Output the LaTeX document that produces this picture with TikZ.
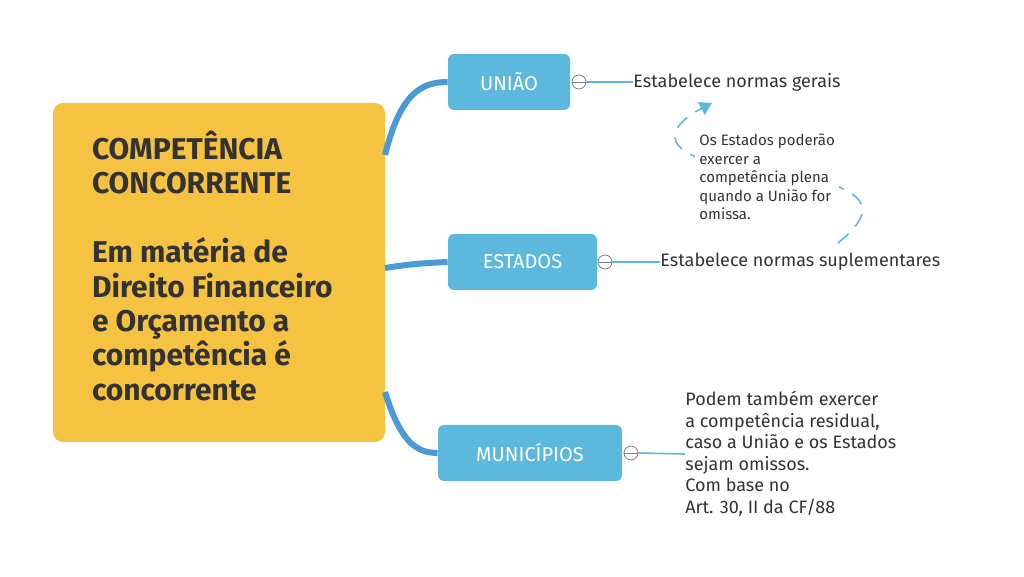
\documentclass[tikz,border=0pt]{standalone}
\usepackage{fontspec}
\setmainfont{Fira Sans}
\usetikzlibrary{arrows.meta}
\definecolor{boxorange}{HTML}{F5C242}
\definecolor{boxblue}{HTML}{5DB8DE}
\definecolor{linkblue}{HTML}{4A9AD6}
\definecolor{txtgray}{HTML}{333333}
\tikzset{
  topic/.style={fill=boxblue,rounded corners=3pt,text=white,font=\fontsize{10}{12}\selectfont,inner sep=0pt},
  branch/.style={linkblue,line width=3pt},
  leaf/.style={text=txtgray,font=\fontsize{9}{10.8}\selectfont,anchor=west,align=left,inner sep=0pt},
  fold/.style={circle,draw=gray,fill=white,inner sep=0pt,minimum size=7pt,thin},
  stem/.style={boxblue,thick}
}
\begin{document}
\begin{tikzpicture}[x=0.5pt,y=-0.5pt]
\useasboundingbox [fill=white] (0,0) rectangle (1024,577);
% CENTRAL TOPIC
\node (central) [fill=boxorange,rounded corners=5pt,minimum width=166pt,minimum height=169.5pt,inner sep=0pt] at (219,272.5) {};
\node [anchor=north west,text=txtgray,align=left,font=\bfseries\fontsize{15}{17.2}\selectfont] at (85,124) {COMPETÊNCIA\\CONCORRENTE\\[17.2pt]Em matéria de\\Direito Financeiro\\e Orçamento a\\competência é\\concorrente};
% MAIN TOPICS
\node (uniao) [topic,minimum width=61pt,minimum height=28pt] at (509,82) {UNIÃO};
\node (estados) [topic,minimum width=74.5pt,minimum height=28pt] at (522.5,262) {ESTADOS};
\node (municipios) [topic,minimum width=92pt,minimum height=28pt] at (530,453) {MUNICÍPIOS};
% BRANCHES
\draw [branch] (385,155) .. controls (400,95) and (420,82) .. (uniao.west);
\draw [branch] (385,268) .. controls (410,264) and (425,263) .. (estados.west);
\draw [branch] (385,392) .. controls (400,440) and (415,453) .. (municipios.west);
% COLLAPSE BUTTONS AND LEAVES
\node (fu) [fold] at (579,82) {};
\node (fe) [fold] at (605,262) {};
\node (fm) [fold] at (631,453) {};
\draw [gray] (fu.west) -- (fu.east) (fe.west) -- (fe.east) (fm.west) -- (fm.east);
\node (normasgerais) [leaf] at (633,82) {Estabelece normas gerais};
\node (normassup) [leaf] at (660,262) {Estabelece normas suplementares};
\node (residual) [leaf,font=\fontsize{9}{10.75}\selectfont] at (685,454) {Podem também exercer\\a competência residual,\\caso a União e os Estados\\sejam omissos.\\Com base no\\Art. 30, II da CF/88};
\draw [stem] (fu.east) -- (normasgerais.west);
\draw [stem] (fe.east) -- (normassup.west);
\draw [stem] (fm.east) -- (residual.west);
% NOTE ON A DASHED CURVE
\coordinate (noteend) at (838,243);
\coordinate (notetip) at (712,103);
\draw [boxblue,thick,dashed,dash pattern=on 7pt off 5pt,-{Triangle[length=6pt,width=7pt]}] (noteend) .. controls (885,205) and (860,190) .. (800,175) .. controls (650,165) and (660,130) .. (notetip);
\node (note) [leaf,fill=white,inner sep=2pt,font=\fontsize{7.5}{9.25}\selectfont] at (695,177) {Os Estados poderão\\exercer a\\competência plena\\quando a União for\\omissa.};
\end{tikzpicture}
\end{document}
